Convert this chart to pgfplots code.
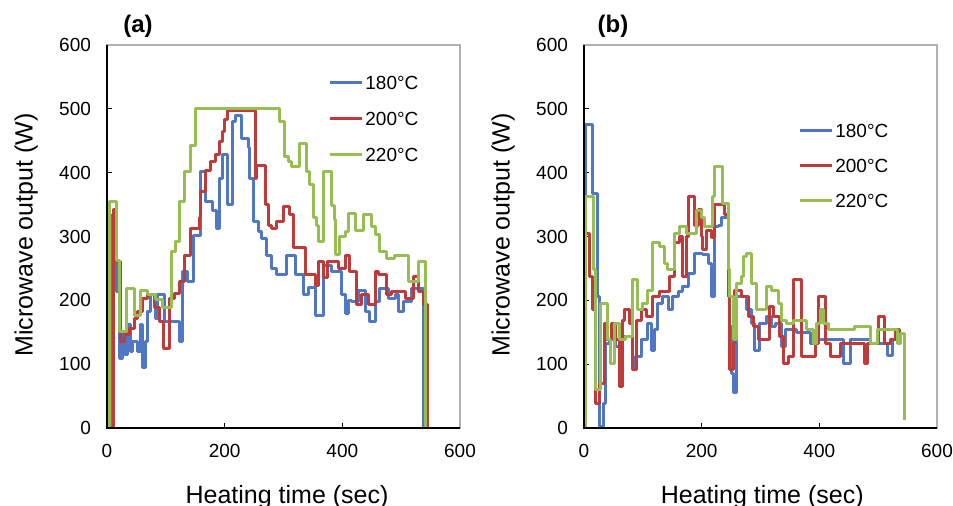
\documentclass[border=0pt]{standalone}
\usepackage{fontspec}
\setmainfont{Liberation Sans}
\usepackage{pgfplots}
\pgfplotsset{compat=1.18}
\definecolor{cblue}{RGB}{79,119,195}
\definecolor{cred}{RGB}{192,58,58}
\definecolor{cgreen}{RGB}{150,190,80}

\pgfplotsset{
  panel/.style={
    anchor=south west,
    width=176.5pt, height=191.5pt, scale only axis,
    xmin=0, xmax=600, ymin=0, ymax=600,
    clip mode=individual,
    xtick={0,200,400,600}, ytick={0,100,...,600},
    tick align=inside, xtick pos=bottom, ytick pos=left,
    major tick length=2.5pt,
    tick style={black, line width=0.6pt},
    axis line style={draw=gray!60, line width=0.6pt},
    ticklabel style={font=\fontsize{9.5}{11}\selectfont},
    yticklabel style={xshift=-4.5pt},
    xticklabel style={yshift=-4.5pt},
    /pgf/number format/assume math mode=true,
    every axis x label/.style={at={(axis description cs:0.51,-0.196)}, anchor=base, font=\fontsize{12.5}{14}\selectfont},
    every axis y label/.style={at={(axis description cs:-0.229,0.504)}, rotate=90, anchor=center, font=\fontsize{12.5}{14}\selectfont},
    xlabel={Heating time (sec)},
    ylabel={Microwave output (W)},
    legend cell align=left,
    legend image code/.code={\draw[##1, line width=1.5pt] (0pt,0pt) -- (16pt,0pt);},
    every axis plot/.append style={const plot, line width=1.5pt, line join=round},
  }
}

\begin{document}
\begin{tikzpicture}
\path[use as bounding box] (0pt,0pt) rectangle (476.5pt,253pt);

% ---------------- panel (a)
\begin{axis}[panel, at={(53.5pt,39pt)},
  legend style={draw=none, fill=none, at={(axis description cs:0.626,0.927)}, anchor=north west,
    inner sep=0pt, row sep=9pt, font=\fontsize{9.5}{11}\selectfont,
    nodes={inner sep=1pt, text height=7pt, text depth=0pt}}]
\addplot[cblue] coordinates {
(0,0) (9,334) (16,214) (22,109) (26,146) (30,115) (35,162) (40,120) (43,135) (52,120)
(57,162) (60,94) (66,135) (69,182) (74,209) (83,172) (86,209) (97,167) (122.5,135)
(128,245) (137,229) (147,302) (159,402) (168,355) (179,340) (186.5,313) (190.5,391)
(196,428) (205,350) (213,480) (219,490) (229,454) (240,440) (243,391) (249,323)
(257,308) (263,297) (271,270) (280,250) (288,240) (305,271) (320,240) (334,209)
(342,220) (354,177) (368,255) (382,245) (399,209) (405,180) (410,200) (416,198)
(427,216) (439,182) (447,167) (456,198) (464,219) (478,203) (490,209) (495,182)
(504,198) (518,219) (538,219) (538,0)
};
\addlegendentry{180°C}
\addplot[cred] coordinates {
(0,0) (11,342) (16.4,261) (23,135) (30,146) (37.5,156) (46,172) (52,182) (60,203)
(69,209) (80,188) (88.5,167) (96,125) (105.5,203) (114,211) (122.5,229) (131,271)
(142,313) (156.5,329) (159,370) (168,404) (176,417) (185,428) (190.5,449) (196,464)
(200,483) (205,498) (252,391) (254.5,412) (268.6,350) (274,318) (280,313) (288,323)
(300,347) (311,334) (317,282) (337,240) (354,224) (359,261) (368,235) (374,261)
(393,250) (405,271) (413,245) (424,193) (433,209) (444,193) (456,245) (461,240)
(475,209) (484,214) (507,203) (521,237) (529,214) (538,193) (544,193) (544,0)
};
\addlegendentry{200°C}
\addplot[cgreen] coordinates {
(0,0) (5,355) (16.5,262) (20.4,151) (33.5,219) (47,177) (57,216) (68.6,209) (83,201)
(94,188) (110,276) (117,292) (124,355) (131,402) (142,443) (151,500) (294,480)
(301,425) (308,418) (314,410) (328,446) (339,402) (345,381) (351,329) (356,318)
(359,292) (368,402) (382,349) (386,326) (389,272) (395,300) (405,308) (411,336)
(422,310) (436,334) (450,316) (457,303) (464,277) (475,266) (488,271) (512,229)
(529,261) (541,261) (541,0)
};
\addlegendentry{220°C}
\draw[black, line width=0.6pt] (rel axis cs:0,1) -- (rel axis cs:0,0) -- (rel axis cs:1,0);
\node[font=\bfseries\fontsize{12}{14}\selectfont] at (axis description cs:0.088,1.05) {(a)};
\end{axis}

% ---------------- panel (b)
\begin{axis}[panel, at={(292pt,39pt)},
  every axis x label/.style={at={(axis description cs:0.505,-0.196)}, anchor=base, font=\fontsize{12.5}{14}\selectfont},
  legend style={draw=none, fill=none, at={(axis description cs:0.606,0.802)}, anchor=north west,
    inner sep=0pt, row sep=8.5pt, font=\fontsize{9.5}{11}\selectfont,
    nodes={inner sep=1pt, text height=7pt, text depth=0pt}}]
\addplot[cblue] coordinates {
(0,0) (3,475) (14,368) (23,206) (26,2) (32.5,39) (37,133) (43,138) (54,128) (63,143)
(82.5,96) (88,112) (97,138) (108,164) (114,122) (120,154) (125.5,195) (134,206)
(143,185) (151,206) (160,214) (168,222) (177,242) (188,274) (202,272) (211,258)
(216.5,206) (222,316) (228,318) (234,329) (245,248) (248,159) (251,86) (253.5,55)
(259,206) (276,185) (285,164) (290.5,122) (299,164) (310.5,175) (319,159) (325,164)
(336,128) (342,154) (362,149) (384.6,133) (393,138) (441.5,101) (453,138) (487,133)
(516,114) (524,138) (540,138)
};
\addlegendentry{180°C}
\addplot[cred] coordinates {
(0,0) (1,305) (8.6,237) (14,185) (20,39) (27,70) (34,164) (37,138) (46,164) (54,138)
(60,65) (65.6,169) (68.5,185) (77,164) (83,91) (88.4,169) (97,185) (105.5,175)
(117,206) (128,214) (145,237) (154,290) (162.5,300) (168,237) (174,300) (177,362)
(188,318) (194,342) (200,300) (202,279) (208,310) (216.5,298) (222,350) (239,335)
(245,206) (248,91) (253.5,133) (256,216) (268,206) (279,175) (288,159) (296,138)
(316,190) (322,175) (333,143) (339,101) (347.6,112) (356,232) (370,112) (393,133)
(399,206) (410,133) (419,112) (436,133) (476,101) (481.4,133) (501,175) (510,133)
(521,138) (530,154) (537,140)
};
\addlegendentry{200°C}
\addplot[cgreen] coordinates {
(0,0) (3,362) (15.4,248) (20,60) (28.5,195) (40,138) (45.6,101) (51,164) (60,138)
(71,143) (83,232) (91,185) (100,195) (108,216) (117,290) (128,284) (137,258)
(142.5,248) (154,305) (162.5,316) (174,305) (191,341) (200,330) (205,316) (219,362)
(222,410) (236,352) (245,248) (248,206) (253.5,138) (259,227) (268,237) (270.6,269)
(276,274) (285,227) (293,185) (310.5,222) (319,216) (330,195) (336,169) (345,164)
(356,169) (379,154) (390,133) (396,164) (402,185) (407,164) (416,154) (459,159)
(487,133) (498.5,154) (533,133) (538,148) (544,148) (544,13)
};
\addlegendentry{220°C}
\draw[black, line width=0.6pt] (rel axis cs:0,1) -- (rel axis cs:0,0) -- (rel axis cs:1,0);
\node[font=\bfseries\fontsize{12}{14}\selectfont] at (axis description cs:0.082,1.05) {(b)};
\end{axis}
\end{tikzpicture}
\end{document}
